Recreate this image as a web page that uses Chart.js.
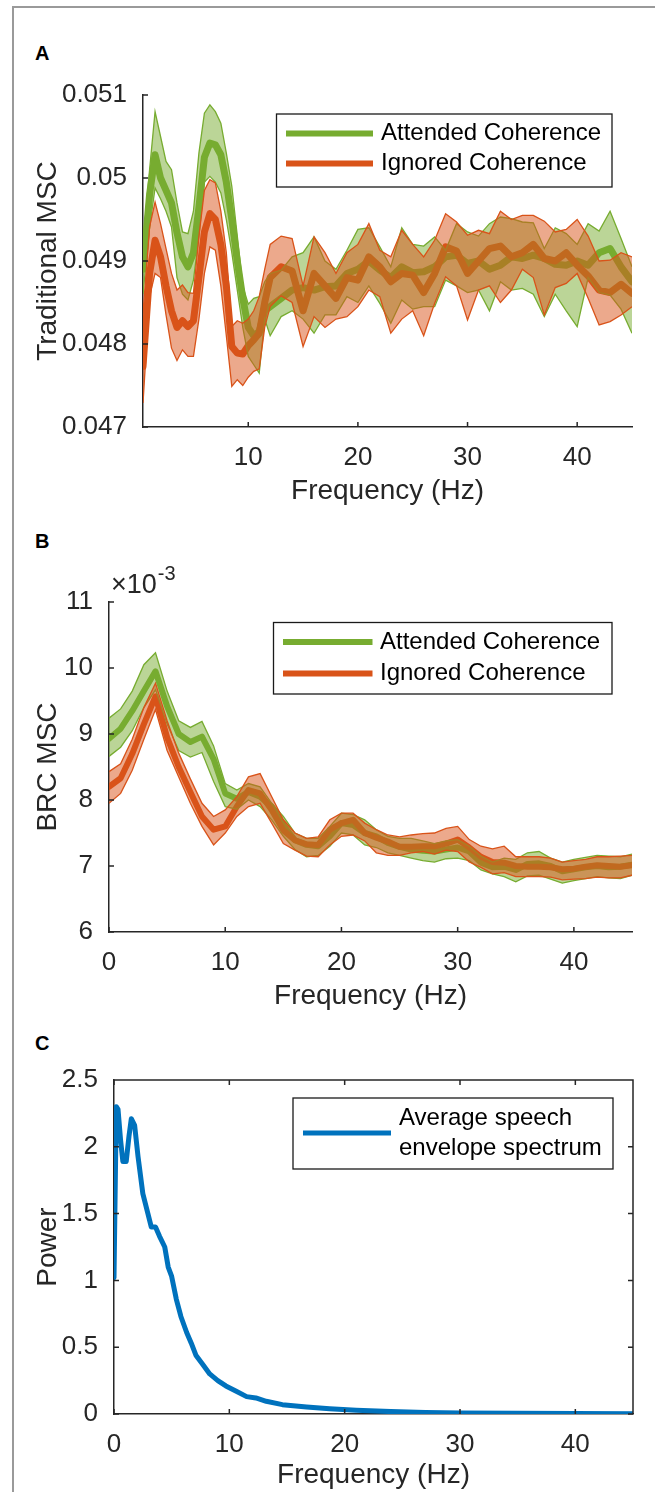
<!DOCTYPE html>
<html lang="en">
<head>
<meta charset="UTF-8">
<title>Attended vs ignored coherence</title>
<script src="https://cdn.jsdelivr.net/npm/chart.js"></script>
<style>
  body { margin: 0; background: #fff; }
  #page { position: relative; width: 655px; height: 1492px; overflow: hidden; background: #fff; }
  .frame { position: absolute; left: 12px; top: 6px; width: 800px; height: 1600px;
           border-left: 2px solid #9a9a9a; border-top: 2px solid #9a9a9a; }
  .panel { position: absolute; left: 0; }
  .tag { position: absolute; left: 35px; font: bold 20px "Liberation Sans", Arial, sans-serif; line-height: 1; color: #000; }
</style>
</head>
<body>
<div id="page">
  <div class="frame"></div>
  <div class="tag" style="top:43px">A</div>
  <div class="tag" style="top:531px">B</div>
  <div class="tag" style="top:1033px">C</div>
  <canvas id="chartA" class="panel" width="655" height="460" style="top:60px"></canvas>
  <canvas id="chartB" class="panel" width="655" height="465" style="top:560px"></canvas>
  <canvas id="chartC" class="panel" width="655" height="464" style="top:1040px"></canvas>
</div>
<script>
// ---- panel A: traditional MSC (values in units of 1e-3) ----
const freqA = [0.4, 1, 1.5, 2, 2.5, 3, 3.5, 4, 4.5, 5, 5.5, 6, 6.5, 7, 7.5, 8, 8.5, 9, 9.5, 10,
  10.5, 11, 11.5, 12, 13, 14, 15, 16, 17, 18, 19, 20, 21, 22, 23, 24, 25, 26, 27, 28, 29, 30,
  31, 32, 33, 34, 35, 36, 37, 38, 39, 40, 41, 42, 43, 44, 45];
const attMeanA = [48.90, 49.80, 50.28, 50.00, 49.85, 49.70, 49.34, 49.05, 48.93, 49.10, 49.65, 50.25, 50.42, 50.40, 50.28, 49.95, 49.50, 49.00, 48.55, 48.20,
  48.10, 48.15, 48.40, 48.45, 48.55, 48.65, 48.68, 48.65, 48.69, 48.70, 48.85, 48.90, 49.00, 48.89, 48.80, 48.93, 48.86, 48.87, 48.93, 49.05, 49.07, 48.97,
  49.00, 48.90, 48.95, 49.05, 49.03, 49.07, 49.03, 48.96, 48.95, 49.00, 48.95, 49.10, 49.15, 48.93, 48.75];
const attHiA = [49.20, 50.10, 50.80, 50.50, 50.20, 50.10, 49.70, 49.35, 49.33, 49.60, 50.30, 50.78, 50.88, 50.80, 50.66, 50.30, 49.90, 49.30, 48.70, 48.48,
  48.55, 48.57, 48.75, 48.85, 48.89, 49.05, 49.10, 49.29, 49.00, 48.90, 49.13, 49.38, 49.40, 49.17, 48.93, 49.40, 49.20, 49.18, 49.29, 49.13, 49.45, 49.35,
  49.30, 49.45, 49.53, 49.51, 49.47, 49.46, 49.15, 49.40, 49.33, 49.20, 49.45, 49.36, 49.60, 49.27, 48.93];
const attLoA = [48.60, 49.40, 49.88, 49.75, 49.60, 49.41, 48.80, 48.60, 48.53, 48.77, 49.30, 49.95, 50.02, 49.95, 49.82, 49.50, 49.10, 48.65, 48.20, 47.85,
  47.75, 47.65, 48.30, 48.10, 48.33, 48.40, 48.30, 48.13, 48.35, 48.35, 48.57, 48.50, 48.70, 48.49, 48.25, 48.53, 48.42, 48.45, 48.45, 48.77, 48.70, 48.62,
  48.65, 48.40, 48.75, 48.65, 48.67, 48.60, 48.33, 48.60, 48.40, 48.21, 48.80, 48.62, 48.59, 48.42, 48.13];
const ignMeanA = [47.73, 48.85, 49.25, 49.05, 48.70, 48.40, 48.20, 48.28, 48.21, 48.28, 48.80, 49.35, 49.57, 49.50, 49.20, 48.70, 47.97, 47.89, 47.88, 47.98,
  48.05, 48.13, 48.50, 48.80, 48.93, 48.88, 48.40, 48.85, 48.70, 48.55, 48.80, 48.77, 49.05, 48.93, 48.75, 48.85, 48.83, 48.62, 48.85, 49.17, 49.12, 48.85,
  49.00, 49.15, 49.18, 49.05, 49.10, 49.20, 49.03, 49.00, 49.10, 48.95, 48.82, 48.65, 48.62, 48.72, 48.61];
const ignHiA = [48.37, 49.41, 49.71, 49.45, 49.15, 48.85, 48.65, 48.71, 48.62, 48.61, 49.30, 49.85, 49.98, 49.94, 49.60, 49.10, 48.21, 48.28, 48.25, 48.30,
  48.40, 48.57, 48.90, 49.20, 49.30, 49.27, 48.70, 49.29, 49.10, 48.85, 49.10, 49.20, 49.45, 49.13, 49.05, 49.37, 49.20, 49.05, 49.25, 49.57, 49.47, 49.31,
  49.37, 49.33, 49.60, 49.50, 49.55, 49.55, 49.48, 49.35, 49.38, 49.50, 49.30, 49.00, 49.01, 49.10, 49.05];
const ignLoA = [47.29, 48.57, 48.85, 48.80, 48.35, 47.95, 47.80, 47.93, 47.85, 47.85, 48.30, 48.85, 49.17, 49.13, 48.70, 48.10, 47.49, 47.57, 47.50, 47.60,
  47.67, 47.70, 48.20, 48.45, 48.58, 48.50, 47.97, 48.33, 48.20, 48.30, 48.33, 48.45, 48.65, 48.57, 48.13, 48.30, 48.40, 48.10, 48.49, 48.81, 48.70, 48.29,
  48.65, 48.70, 48.50, 48.65, 48.90, 48.80, 48.35, 48.68, 48.73, 48.85, 48.55, 48.23, 48.27, 48.35, 48.45];
const yTicksA = [47, 48, 49, 50, 51];

// ---- panel B: BRC MSC (values in units of 1e-3) ----
const freqB = [0, 1, 2, 3, 4, 5, 6, 7, 8, 9, 10, 11, 12, 13, 14, 15, 16, 17, 18, 19, 20, 21, 22,
  23, 24, 25, 26, 27, 28, 29, 30, 31, 32, 33, 34, 35, 36, 37, 38, 39, 40, 41, 42, 43, 44, 45];
const attMeanB = [8.93, 9.08, 9.35, 9.65, 9.95, 9.42, 9.00, 8.88, 8.96, 8.62, 8.10, 8.02, 8.12, 8.05, 7.90, 7.62, 7.39, 7.32, 7.30, 7.45, 7.65, 7.62, 7.50,
  7.45, 7.35, 7.29, 7.25, 7.23, 7.22, 7.25, 7.28, 7.22, 7.05, 6.98, 6.99, 6.94, 7.03, 7.04, 7.00, 6.92, 6.95, 6.98, 7.00, 6.98, 6.99, 7.02];
const attHiB = [9.24, 9.38, 9.65, 10.05, 10.23, 9.65, 9.20, 9.10, 9.19, 8.82, 8.25, 8.15, 8.25, 8.20, 7.95, 7.75, 7.50, 7.42, 7.42, 7.60, 7.80, 7.78, 7.70,
  7.55, 7.45, 7.42, 7.42, 7.38, 7.34, 7.38, 7.40, 7.30, 7.15, 7.06, 7.12, 7.10, 7.20, 7.22, 7.12, 7.06, 7.10, 7.13, 7.16, 7.15, 7.14, 7.18];
const attLoB = [8.66, 8.80, 9.05, 9.40, 9.67, 9.15, 8.75, 8.65, 8.72, 8.28, 7.90, 7.86, 8.00, 7.90, 7.70, 7.45, 7.25, 7.14, 7.16, 7.30, 7.50, 7.47, 7.32,
  7.28, 7.20, 7.16, 7.12, 7.08, 7.06, 7.11, 7.12, 7.08, 6.94, 6.88, 6.84, 6.76, 6.85, 6.86, 6.80, 6.74, 6.78, 6.81, 6.84, 6.82, 6.81, 6.86];
const ignMeanB = [8.20, 8.33, 8.70, 9.15, 9.57, 8.95, 8.50, 8.12, 7.75, 7.55, 7.60, 7.90, 8.15, 8.10, 7.85, 7.54, 7.39, 7.33, 7.32, 7.55, 7.65, 7.70, 7.50,
  7.43, 7.37, 7.29, 7.29, 7.30, 7.30, 7.34, 7.40, 7.28, 7.14, 7.06, 7.05, 7.00, 6.99, 6.99, 6.98, 6.95, 6.96, 6.99, 7.01, 7.00, 6.99, 7.01];
const ignHiB = [8.43, 8.55, 8.92, 9.40, 9.77, 9.20, 8.71, 8.32, 7.95, 7.75, 7.85, 8.05, 8.35, 8.40, 8.05, 7.70, 7.50, 7.42, 7.44, 7.70, 7.80, 7.80, 7.65,
  7.55, 7.47, 7.44, 7.47, 7.49, 7.50, 7.57, 7.60, 7.40, 7.30, 7.26, 7.30, 7.14, 7.14, 7.14, 7.12, 7.06, 7.08, 7.10, 7.14, 7.14, 7.15, 7.16];
const ignLoB = [7.95, 8.10, 8.45, 8.92, 9.37, 8.75, 8.35, 7.95, 7.60, 7.32, 7.50, 7.75, 7.90, 7.95, 7.65, 7.34, 7.24, 7.15, 7.14, 7.32, 7.45, 7.47, 7.38,
  7.20, 7.16, 7.16, 7.20, 7.22, 7.18, 7.24, 7.22, 7.06, 6.98, 6.88, 6.90, 6.84, 6.84, 6.84, 6.83, 6.79, 6.80, 6.81, 6.83, 6.82, 6.82, 6.86];
const yTicksB = [6, 7, 8, 9, 10, 11];

// ---- panel C: average speech envelope spectrum ----
const freqC = [0, 0.2, 0.35, 0.57, 0.77, 1.06, 1.3, 1.5, 1.79, 2.08, 2.5, 2.94, 3.23, 3.6, 3.95, 4.4, 4.7, 5.0, 5.4, 5.8,
  6.3, 6.7, 7.1, 7.7, 8.3, 9.0, 9.7, 10.6, 11.5, 12.3, 13.2, 14.6, 16.7, 18.7, 21, 24, 27, 30, 35, 40, 45];
const powerC = [1.02, 2.30, 2.28, 2.05, 1.89, 1.89, 2.08, 2.21, 2.16, 1.93, 1.65, 1.50, 1.40, 1.40, 1.33, 1.25, 1.10, 1.03, 0.86, 0.73,
  0.61, 0.53, 0.44, 0.37, 0.30, 0.25, 0.21, 0.17, 0.13, 0.12, 0.095, 0.07, 0.053, 0.04, 0.028, 0.018, 0.012, 0.008, 0.005, 0.003, 0.002];
const yTicksC = [0, 0.5, 1, 1.5, 2, 2.5];
const xTicks = [0, 10, 20, 30, 40];

const INK = '#262626';
const GREEN = '#77AC30', ORANGE = '#D95319', BLUE = '#0072BD';
const GREEN_FILL = 'rgba(119,172,48,0.5)', ORANGE_FILL = 'rgba(217,83,25,0.5)';
const FONT = '"Liberation Sans", Arial, Helvetica, sans-serif';

function pts(xs, ys) { return xs.map((x, i) => ({ x: x, y: ys[i] })); }

function meanLine(label, xs, ys, color, width, order) {
  return { label: label, data: pts(xs, ys), borderColor: color, borderWidth: width,
           pointRadius: 0, fill: false, order: order, borderJoinStyle: 'round', borderCapStyle: 'round' };
}
function bandEdges(xs, hi, lo, color, fillColor, order) {
  return [
    { data: pts(xs, hi), borderColor: color, borderWidth: 1.3, pointRadius: 0,
      fill: '+1', backgroundColor: fillColor, order: order },
    { data: pts(xs, lo), borderColor: color, borderWidth: 1.3, pointRadius: 0,
      fill: false, order: order - 1 }
  ];
}

// inward tick marks, optional full box, legend and axis exponent
const matlabLook = {
  id: 'matlabLook',
  afterDraw(chart, args, o) {
    const { ctx, chartArea: a, scales } = chart;
    const tl = 5;
    ctx.save();
    ctx.strokeStyle = INK;
    ctx.lineWidth = 1.5;
    ctx.beginPath();
    scales.x.ticks.forEach(t => {
      const px = scales.x.getPixelForValue(t.value);
      ctx.moveTo(px, a.bottom); ctx.lineTo(px, a.bottom - tl);
      if (o.box) { ctx.moveTo(px, a.top); ctx.lineTo(px, a.top + tl); }
    });
    scales.y.ticks.forEach(t => {
      const py = scales.y.getPixelForValue(t.value);
      ctx.moveTo(a.left, py); ctx.lineTo(a.left + tl, py);
      if (o.box) { ctx.moveTo(a.right, py); ctx.lineTo(a.right - tl, py); }
    });
    if (o.box) {
      ctx.moveTo(a.left, a.top); ctx.lineTo(a.right, a.top); ctx.lineTo(a.right, a.bottom);
    }
    ctx.stroke();

    if (o.exponent) {
      ctx.fillStyle = INK;
      ctx.textBaseline = 'middle';
      ctx.textAlign = 'left';
      ctx.font = '27px ' + FONT;
      ctx.fillText('\u00d710', o.exponent.x, o.exponent.y);
      const w = ctx.measureText('\u00d710').width;
      ctx.font = '20px ' + FONT;
      ctx.fillText('-3', o.exponent.x + w + 1, o.exponent.y - 12);
    }

    const lg = o.legend;
    if (lg) {
      ctx.fillStyle = '#fff';
      ctx.fillRect(lg.x, lg.y, lg.w, lg.h);
      ctx.strokeStyle = '#1a1a1a';
      ctx.lineWidth = 1.3;
      ctx.strokeRect(lg.x, lg.y, lg.w, lg.h);
      ctx.font = lg.size + 'px ' + FONT;
      ctx.textBaseline = 'middle';
      ctx.textAlign = 'left';
      const items = chart.data.datasets.filter(d => d.label);
      items.forEach((d, i) => {
        const y = lg.rows[i];
        ctx.strokeStyle = d.borderColor;
        ctx.lineWidth = lg.lineWidth;
        ctx.beginPath();
        ctx.moveTo(lg.x0, y); ctx.lineTo(lg.x1, y);
        ctx.stroke();
        ctx.fillStyle = '#000';
        const lines = Array.isArray(d.label) ? d.label : [d.label];
        lines.forEach((s, k) => {
          ctx.fillText(s, lg.tx, y + (k - (lines.length - 1) / 2) * lg.lineGap);
        });
      });
    }
    ctx.restore();
  }
};

const tickFont = { family: FONT, size: 26 };
const titleFont = { family: FONT, size: 28, lineHeight: 1.2 };

function axes(cfg) {
  return {
    x: {
      type: 'linear', min: cfg.xMin, max: 45,
      afterBuildTicks: s => { s.ticks = cfg.xTicks.map(v => ({ value: v })); },
      afterFit: s => { s.height = cfg.xH; },
      grid: { display: false },
      border: { display: true, color: INK, width: 1.5 },
      ticks: { color: INK, font: tickFont, padding: 7, maxRotation: 0, autoSkip: false },
      title: { display: true, text: 'Frequency (Hz)', color: INK, font: titleFont,
               padding: { top: 0, bottom: 12 } }
    },
    y: {
      type: 'linear', min: cfg.yMin, max: cfg.yMax,
      afterBuildTicks: s => { s.ticks = cfg.yTicks.map(v => ({ value: v })); },
      afterFit: s => { s.width = cfg.yW; },
      grid: { display: false },
      border: { display: true, color: INK, width: 1.5 },
      ticks: { color: INK, font: tickFont, padding: 8, autoSkip: false,
               callback: cfg.yLabel || (v => String(v)) },
      title: { display: true, text: cfg.yTitle, color: INK, font: titleFont,
               padding: { top: 31, bottom: 0 } }
    }
  };
}

function build(id, datasets, cfg, look) {
  return new Chart(document.getElementById(id), {
    type: 'line',
    data: { datasets: datasets },
    options: {
      responsive: false,
      animation: false,
      events: [],
      layout: { padding: { top: cfg.padTop, right: 655 - cfg.right, left: 0, bottom: 0 } },
      elements: { line: { tension: 0 } },
      plugins: { legend: { display: false }, tooltip: { enabled: false }, matlabLook: look },
      scales: axes(cfg)
    },
    plugins: [matlabLook]
  });
}

// A
build('chartA', [
  meanLine('Attended Coherence', freqA, attMeanA, GREEN, 7, 20),
  meanLine('Ignored Coherence', freqA, ignMeanA, ORANGE, 7, 19),
  ...bandEdges(freqA, attHiA, attLoA, GREEN, GREEN_FILL, 10),
  ...bandEdges(freqA, ignHiA, ignLoA, ORANGE, ORANGE_FILL, 5)
], { xMin: 0.4, xTicks: [10, 20, 30, 40], yMin: 47, yMax: 51, yTicks: yTicksA,
     yLabel: v => String(v / 1000), yTitle: 'Traditional MSC',
     padTop: 35, right: 632, xH: 93, yW: 143 },
{ legend: { x: 276.5, y: 54, w: 335.5, h: 73, rows: [73.5, 103.5], x0: 286, x1: 373,
            tx: 381, size: 24, lineWidth: 6, lineGap: 30 } });

// B
build('chartB', [
  meanLine('Attended Coherence', freqB, attMeanB, GREEN, 6, 20),
  meanLine('Ignored Coherence', freqB, ignMeanB, ORANGE, 6, 19),
  ...bandEdges(freqB, attHiB, attLoB, GREEN, GREEN_FILL, 10),
  ...bandEdges(freqB, ignHiB, ignLoB, ORANGE, ORANGE_FILL, 5)
], { xMin: 0, xTicks: xTicks, yMin: 6, yMax: 11, yTicks: yTicksB, yTitle: 'BRC MSC',
     padTop: 42, right: 632, xH: 93, yW: 109 },
{ exponent: { x: 111, y: 26 },
  legend: { x: 273.5, y: 62.5, w: 338.5, h: 71.5, rows: [82, 113.5], x0: 283, x1: 372.5,
            tx: 380, size: 24, lineWidth: 6, lineGap: 30 } });

// C
build('chartC', [
  meanLine(['Average speech', 'envelope spectrum'], freqC, powerC, BLUE, 5, 1)
], { xMin: 0, xTicks: xTicks, yMin: 0, yMax: 2.5, yTicks: yTicksC, yTitle: 'Power',
     padTop: 40, right: 633, xH: 90, yW: 114 },
{ box: true,
  legend: { x: 293, y: 58, w: 320, h: 71, rows: [93], x0: 303, x1: 391,
            tx: 399, size: 24, lineWidth: 5, lineGap: 30 } });
</script>
</body>
</html>
